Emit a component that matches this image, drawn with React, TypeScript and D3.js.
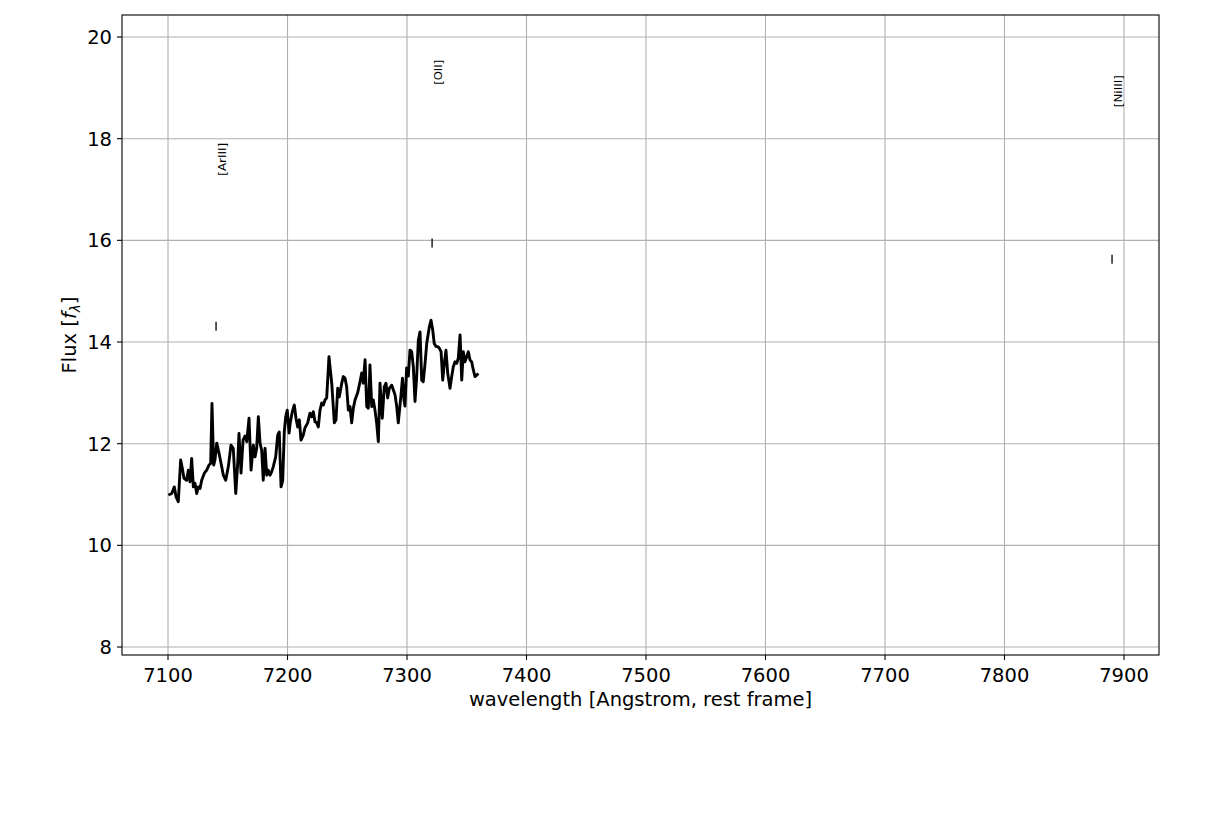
import React from "react";
import * as d3 from "d3";

const wavelength = [
  7100.3, 7103.1, 7105.3, 7106.7, 7108.6, 7110.6, 7112.0, 7113.4, 7115.6, 7117.0,
  7118.4, 7119.8, 7121.2, 7122.6, 7124.0, 7125.4, 7126.8, 7128.2, 7130.4, 7132.4,
  7134.3, 7135.7, 7136.8, 7138.2, 7139.3, 7140.8, 7142.7, 7144.9, 7146.3, 7148.3,
  7150.5, 7152.7, 7154.6, 7156.7, 7158.3, 7159.4, 7161.1, 7162.8, 7164.4, 7165.9,
  7167.8, 7169.5, 7171.4, 7172.8, 7174.2, 7175.6, 7177.0, 7178.4, 7179.7, 7181.2,
  7182.6, 7183.9, 7185.4, 7186.8, 7188.1, 7190.1, 7191.8, 7193.1, 7194.6, 7196.0,
  7197.3, 7198.5, 7199.8, 7201.3, 7202.3, 7204.0, 7205.7, 7207.1, 7208.5, 7209.9,
  7211.3, 7213.2, 7214.6, 7216.9, 7218.8, 7220.3, 7221.6, 7223.0, 7224.4, 7225.8,
  7227.2, 7228.6, 7230.0, 7231.4, 7232.8, 7234.7, 7237.0, 7239.2, 7240.6, 7242.0,
  7243.3, 7245.4, 7246.7, 7248.1, 7249.5, 7250.9, 7252.3, 7253.7, 7255.1, 7256.5,
  7258.7, 7260.7, 7262.1, 7263.4, 7264.9, 7266.3, 7267.6, 7268.5, 7269.0, 7270.5,
  7271.8, 7273.2, 7274.6, 7276.0, 7277.4, 7279.3, 7281.0, 7282.4, 7283.8, 7285.2,
  7287.2, 7288.5, 7290.0, 7291.4, 7292.7, 7295.0, 7296.2, 7297.5, 7298.3, 7299.7,
  7301.1, 7302.5, 7303.9, 7305.3, 7306.7, 7308.1, 7309.5, 7310.9, 7312.3, 7313.6,
  7315.1, 7316.5, 7318.7, 7320.1, 7321.5, 7322.8, 7324.3, 7325.7, 7327.0, 7328.5,
  7329.9, 7331.2, 7332.6, 7334.1, 7336.0, 7337.4, 7338.7, 7340.2, 7341.6, 7342.9,
  7344.4, 7345.8, 7347.1, 7348.5, 7350.0, 7351.3, 7352.7, 7354.1, 7355.5, 7356.9,
  7358.3, 7359.7,
];

const flux = [
  10.99, 11.02, 11.15, 10.96, 10.86, 11.68, 11.51, 11.32, 11.28, 11.48,
  11.25, 11.71, 11.15, 11.22, 11.02, 11.15, 11.12, 11.28, 11.42, 11.48,
  11.58, 11.61, 12.79, 11.58, 11.68, 12.01, 11.81, 11.55, 11.38, 11.28,
  11.55, 11.97, 11.91, 11.02, 11.61, 12.20, 11.42, 12.07, 12.15, 12.04,
  12.50, 11.48, 11.97, 11.74, 11.91, 12.53, 12.01, 11.87, 11.28, 11.91,
  11.38, 11.48, 11.38, 11.45, 11.55, 11.74, 12.17, 12.23, 11.15, 11.28,
  12.23, 12.53, 12.66, 12.21, 12.41, 12.63, 12.76, 12.50, 12.33, 12.47,
  12.07, 12.17, 12.31, 12.41, 12.60, 12.53, 12.63, 12.43, 12.41, 12.33,
  12.66, 12.80, 12.76, 12.86, 12.90, 13.71, 13.19, 12.41, 12.47, 13.09,
  12.92, 13.19, 13.32, 13.29, 13.12, 12.66, 12.73, 12.41, 12.70, 12.86,
  13.00, 13.22, 13.39, 13.19, 13.65, 12.73, 12.70, 13.19, 13.55, 12.73,
  12.86, 12.66, 12.41, 12.04, 13.19, 12.50, 13.12, 13.19, 12.90, 13.09,
  13.15, 13.06, 12.96, 12.73, 12.41, 12.96, 13.29, 12.86, 12.74, 13.49,
  13.33, 13.84, 13.81, 13.51, 12.83, 13.32, 14.04, 14.20, 13.25, 13.22,
  13.58, 13.97, 14.30, 14.43, 14.24, 13.97, 13.91, 13.91, 13.88, 13.81,
  13.25, 13.58, 13.84, 13.38, 13.09, 13.32, 13.51, 13.61, 13.58, 13.68,
  14.14, 13.25, 13.81, 13.61, 13.71, 13.81, 13.65, 13.61, 13.45, 13.32,
  13.35, 13.38,
];

const lineNames = ["[ArIII]", "[OII]", "[NiIII]"];
const lineWaves = [7140.2, 7321.0, 7890.0];
const markFlux = [14.31, 15.95, 15.63];
const labelFlux = [17.27, 19.06, 18.62];
const labelLengths = [33, 25, 32];

const xTicks = [7100, 7200, 7300, 7400, 7500, 7600, 7700, 7800, 7900];
const yTicks = [8, 10, 12, 14, 16, 18, 20];

const W = 1220;
const H = 819;
const left = 122;
const right = 1159;
const top = 15;
const bottom = 655;
const FONT = "'DejaVu Sans', sans-serif";
const FS = 19.5;

export default function App() {
  const x = d3.scaleLinear().domain([7061.5, 7929.3]).range([left, right]);
  const y = d3.scaleLinear().domain([7.843, 20.433]).range([bottom, top]);

  const pts: [number, number][] = wavelength.map((w, i) => [w, flux[i]]);
  const line = d3
    .line<[number, number]>()
    .x((d) => x(d[0]))
    .y((d) => y(d[1]));

  return (
    <div style={{ position: "absolute", left: 0, top: 0 }}>
      <svg width={W} height={H} style={{ display: "block", background: "#fff" }}>
        <rect x={0} y={0} width={W} height={H} fill="#fff" />
        {xTicks.map((t) => (
          <line key={"gx" + t} x1={x(t)} x2={x(t)} y1={top} y2={bottom} stroke="#b0b0b0" strokeWidth={1.1} />
        ))}
        {yTicks.map((t) => (
          <line key={"gy" + t} x1={left} x2={right} y1={y(t)} y2={y(t)} stroke="#b0b0b0" strokeWidth={1.1} />
        ))}
        <path d={line(pts) || ""} fill="none" stroke="#000" strokeWidth={2.9} strokeLinejoin="round" />
        {lineNames.map((n, i) => {
          const cx = x(lineWaves[i]);
          const my = y(markFlux[i]);
          const ly = y(labelFlux[i]);
          return (
            <g key={n}>
              <line x1={cx} x2={cx} y1={my - 4.5} y2={my + 4.5} stroke="#000" strokeWidth={1.3} />
              <text
                transform={`translate(${cx + 9.5},${ly}) rotate(-90)`}
                fontFamily={FONT}
                fontSize={10}
                textLength={labelLengths[i]}
                lengthAdjust="spacingAndGlyphs"
                fill="#000"
              >
                {n}
              </text>
            </g>
          );
        })}
        <rect x={left} y={top} width={right - left} height={bottom - top} fill="none" stroke="#000" strokeWidth={1.1} />
        {xTicks.map((t) => (
          <g key={"xt" + t}>
            <line x1={x(t)} x2={x(t)} y1={bottom} y2={bottom + 5} stroke="#000" strokeWidth={1.1} />
            <text x={x(t)} y={bottom + 27} textAnchor="middle" fontFamily={FONT} fontSize={FS} fill="#000">
              {t}
            </text>
          </g>
        ))}
        {yTicks.map((t) => (
          <g key={"yt" + t}>
            <line x1={left - 5} x2={left} y1={y(t)} y2={y(t)} stroke="#000" strokeWidth={1.1} />
            <text x={left - 10} y={y(t) + 7} textAnchor="end" fontFamily={FONT} fontSize={FS} fill="#000">
              {t}
            </text>
          </g>
        ))}
        <text x={(left + right) / 2} y={706} textAnchor="middle" fontFamily={FONT} fontSize={FS} fill="#000">
          wavelength [Angstrom, rest frame]
        </text>
        <text
          transform={`translate(76,${(top + bottom) / 2}) rotate(-90)`}
          textAnchor="middle"
          fontFamily={FONT}
          fontSize={FS}
          fill="#000"
        >
          Flux [<tspan fontStyle="italic">f</tspan>
          <tspan fontStyle="italic" fontSize={13.5} dy={4}>λ</tspan>
          <tspan dy={-4}>]</tspan>
        </text>
      </svg>
    </div>
  );
}
